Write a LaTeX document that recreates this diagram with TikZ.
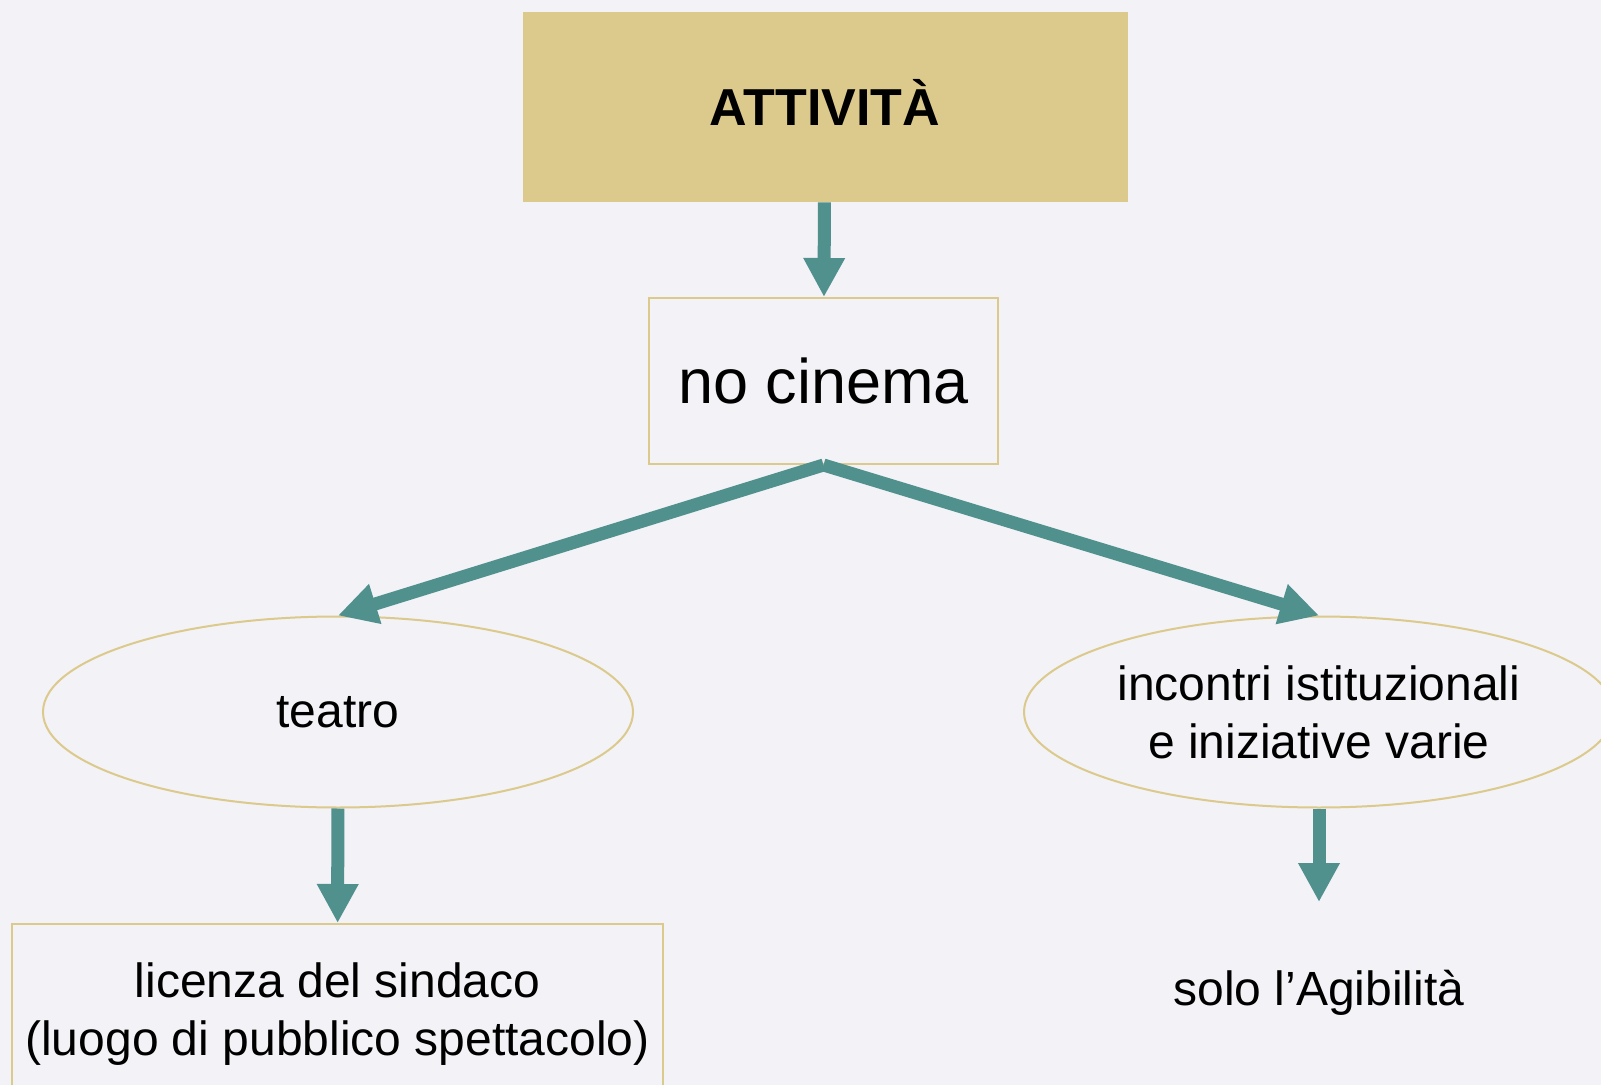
\documentclass[tikz,border=0pt]{standalone}
\usepackage{fontspec}
\setmainfont{Liberation Sans}
\usetikzlibrary{arrows.meta,shapes.geometric}
\definecolor{sabbia}{RGB}{220,202,140}
\definecolor{ottanio}{RGB}{80,145,141}
\definecolor{sfondo}{RGB}{242,242,247}

\begin{document}
\begin{tikzpicture}[x=0.5pt,y=-0.5pt,
  titolo/.style={rectangle, fill=sabbia, minimum width=302.5pt, minimum height=95pt,
    text depth=5pt, font=\fontsize{26}{31}\selectfont\bfseries},
  riquadro/.style={rectangle, draw=sabbia, line width=1pt, align=center},
  ovale/.style={ellipse, draw=sabbia, line width=1pt, minimum width=295pt,
    minimum height=95.5pt, align=center, font=\fontsize{24}{29}\selectfont},
  freccia/.style={draw=ottanio, line width=6.5pt, -{Triangle[width=19.5pt,length=19.5pt]}}]
\useasboundingbox[fill=sfondo] (0,0) rectangle (1601,1085);
\clip (0,0) rectangle (1601,1085);
\node[titolo] (att) at (825,107) {ATTIVITÀ};
\node[riquadro, minimum width=174.5pt, minimum height=83pt,
  font=\fontsize{31.5}{37}\selectfont] (nc) at (823.5,381) {no cinema};
\node[ovale] (teatro) at (338,712) {teatro};
\node[ovale] (incontri) at (1319,712) {incontri istituzionali\\e iniziative varie};
\node[riquadro, minimum width=325.5pt, minimum height=90pt,
  font=\fontsize{24}{29}\selectfont] (licenza) at (337.5,1014)
  {licenza del sindaco\\(luogo di pubblico spettacolo)};
\node[font=\fontsize{24}{29}\selectfont] (agib) at (1319,993) {solo l’Agibilità};
\coordinate (fineagib) at (1319,902);
\path
(att) edge[freccia] (nc)
(nc.south) edge[freccia] (teatro.north)
edge[freccia] (incontri.north)
(teatro) edge[freccia] (licenza)
(incontri.south) edge[freccia] (fineagib)
;
\end{tikzpicture}
\end{document}
